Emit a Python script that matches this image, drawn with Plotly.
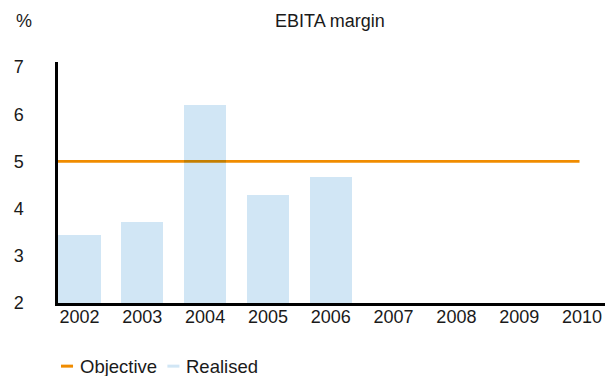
import plotly.graph_objects as go

# EBITA margin, % — realised vs. long-term objective
years = [2002, 2003, 2004, 2005, 2006, 2007, 2008, 2009, 2010]
realised_years = [2002, 2003, 2004, 2005, 2006]
realised = [3.45, 3.72, 6.2, 4.28, 4.68]
objective = 5.0
y_ticks = [2, 3, 4, 5, 6, 7]
series_names = ["Objective", "Realised"]

ORANGE = "#F08C00"
LIGHT_BLUE = "#D1E6F5"
TEXT = "#1a1a1a"
FONT = "Liberation Sans, Arial, Helvetica, sans-serif"

x_lo, x_hi = years[0] - 0.342, years[-1] + 0.366

fig = go.Figure()

fig.add_trace(go.Bar(
    x=realised_years, y=[v - y_ticks[0] for v in realised], base=y_ticks[0],
    width=0.67, marker=dict(color=LIGHT_BLUE, line=dict(width=0)),
    name=series_names[1], showlegend=False,
))

fig.add_trace(go.Scatter(
    x=[x_lo, years[-1] - 0.04], y=[objective, objective], mode="lines",
    line=dict(color=ORANGE, width=2.6), name=series_names[0],
    showlegend=False,
))

fig.update_layout(
    width=613, height=376,
    margin=dict(l=58, r=8, t=62, b=73),
    paper_bgcolor="white", plot_bgcolor="white",
    font=dict(family=FONT, size=18, color=TEXT),
    showlegend=False,
    bargap=0,
)

fig.update_xaxes(
    range=[x_lo, x_hi], tickvals=years, ticktext=[str(y) for y in years],
    showgrid=False, zeroline=False, showline=True, linecolor="black",
    linewidth=2.5, ticks="", ticklabelstandoff=-4,
    tickfont=dict(size=18, color=TEXT),
)
fig.update_yaxes(
    range=[y_ticks[0], 7.106], tickvals=y_ticks, showgrid=False,
    zeroline=False, showline=True, linecolor="black", linewidth=2.5,
    ticks="", ticklabelstandoff=28, tickfont=dict(size=18, color=TEXT),
)

# Title and unit label
fig.add_annotation(text="EBITA margin", xref="paper", yref="paper",
                   x=0.497, y=1.17, showarrow=False, xanchor="center",
                   yanchor="middle", font=dict(size=18, color=TEXT))
fig.add_annotation(text="%", xref="paper", yref="paper",
                   x=-0.062, y=1.17, showarrow=False, xanchor="center",
                   yanchor="middle", font=dict(size=18, color=TEXT))

# Legend drawn as short dashes with labels underneath the chart
legend_y = -0.262
legend_items = [(series_names[0], ORANGE, 0.0055), (series_names[1], LIGHT_BLUE, 0.200)]
for name, color, x0 in legend_items:
    fig.add_shape(type="line", xref="paper", yref="paper",
                  x0=x0, x1=x0 + 0.022, y0=legend_y, y1=legend_y,
                  line=dict(color=color, width=3))
    fig.add_annotation(text=name, xref="paper", yref="paper",
                       x=x0 + 0.033, y=legend_y, showarrow=False,
                       xanchor="left", yanchor="middle", borderpad=0,
                       font=dict(size=18.5, color=TEXT))

# Objective line blends multiplicatively where it crosses a bar
blend_js = """
var s = document.createElement('style');
s.textContent = '.scatterlayer { mix-blend-mode: multiply; }';
document.head.appendChild(s);
"""

fig.write_html("out.html", post_script=blend_js)
